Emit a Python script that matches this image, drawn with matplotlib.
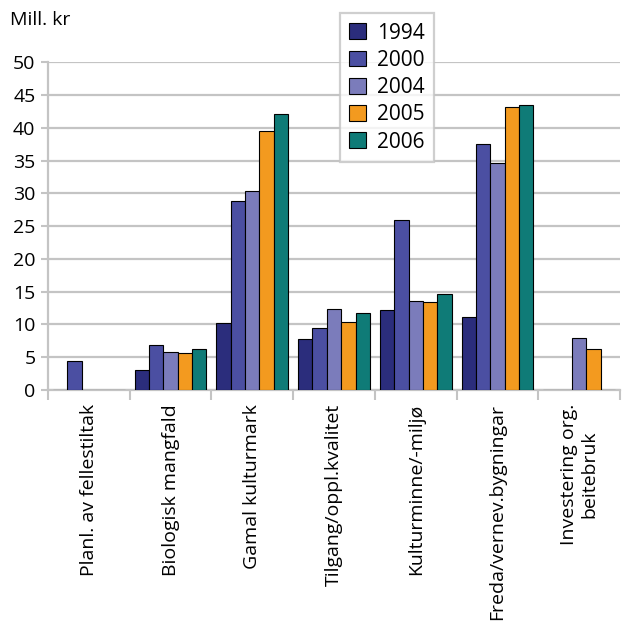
import matplotlib.pyplot as plt
import numpy as np

plt.rcParams['font.family'] = ['Open Sans', 'DejaVu Sans']

categories = ['Planl. av fellestiltak', 'Biologisk mangfald', 'Gamal kulturmark',
              'Tilgang/oppl.kvalitet', 'Kulturminne/-miljø', 'Freda/vernev.bygningar',
              'Investering org.\nbeitebruk']
years = ['1994', '2000', '2004', '2005', '2006']
v1994 = [0, 3.0, 10.2, 7.8, 12.2, 11.2, 0]
v2000 = [4.5, 6.9, 28.9, 9.4, 25.9, 37.6, 0]
v2004 = [0, 5.8, 30.4, 12.4, 13.6, 34.7, 7.9]
v2005 = [0, 5.6, 39.5, 10.4, 13.5, 43.2, 6.2]
v2006 = [0, 6.2, 42.1, 11.7, 14.7, 43.5, 0]
colors = ['#2b2d7c', '#4b4fa2', '#7b7cbb', '#f39a1f', '#0f7b77']

series = [v1994, v2000, v2004, v2005, v2006]

fig = plt.figure(figsize=(6.22, 6.23), dpi=100)
ax = fig.add_axes([0.077, 0.374, 0.92, 0.526])

x = np.arange(len(categories))
w = 0.176
for i, (vals, col, yr) in enumerate(zip(series, colors, years)):
    ax.bar(x + (i - 2) * w, vals, w, color=col, edgecolor='black', linewidth=0.8,
           label=yr, zorder=3)

ax.set_ylim(0, 50)
ax.set_xlim(-0.5, len(categories) - 0.5)
ax.set_yticks(range(0, 51, 5))
ax.yaxis.grid(True, color='#c4c4c4', linewidth=1.6, zorder=0)

ax.set_xticks(x)
ax.set_xticklabels(categories, rotation=90, va='top', ha='center', fontsize=14,
                   multialignment='center')
ax.set_xticks(np.arange(-0.5, len(categories)), minor=True)
ax.tick_params(axis='x', which='major', length=0, pad=10)
ax.tick_params(axis='x', which='minor', length=7, width=1.5, color='#c4c4c4')
ax.tick_params(axis='y', length=5, width=1.5, color='#c4c4c4', labelsize=14, pad=4)

for s in ['top', 'right']:
    ax.spines[s].set_visible(False)
for s in ['left', 'bottom']:
    ax.spines[s].set_color('#c4c4c4')
    ax.spines[s].set_linewidth(1.6)

leg = ax.legend(loc='upper left', bbox_to_anchor=(0.51, 1.15), borderaxespad=0,
                fontsize=15, frameon=True, fancybox=False, handlelength=0.8,
                handleheight=0.8, handletextpad=0.55, borderpad=0.45,
                labelspacing=0.3)
leg.get_frame().set_edgecolor('#c4c4c4')
leg.get_frame().set_linewidth(1.6)
leg.set_zorder(5)

fig.text(0.016, 0.968, 'Mill. kr', fontsize=14, va='center', ha='left')

fig.savefig('out.png', dpi=100)
